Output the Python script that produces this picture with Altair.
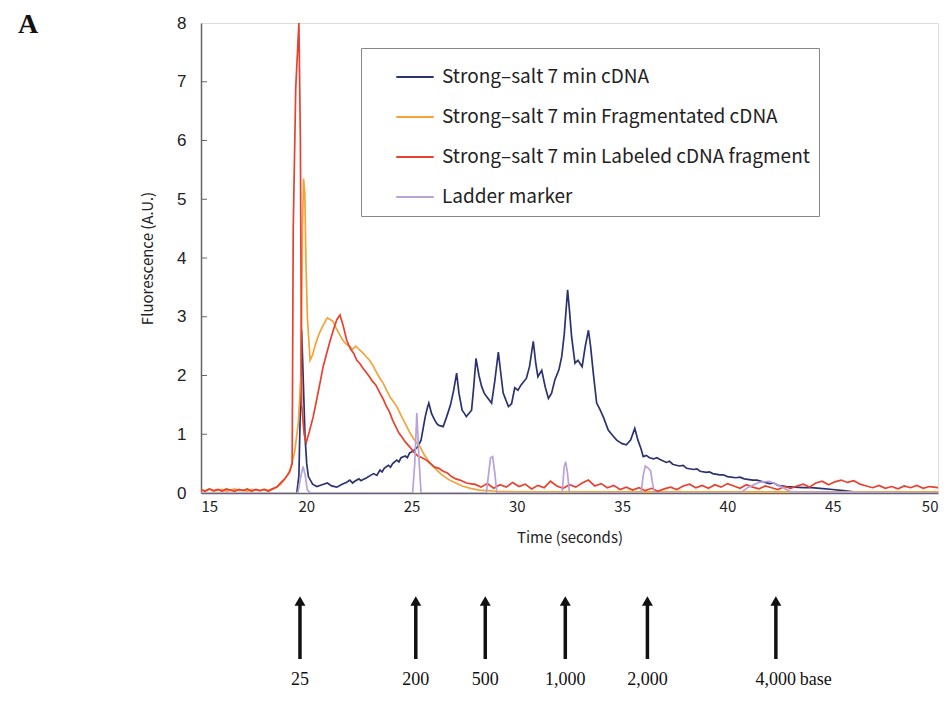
import altair as alt
import pandas as pd

# ---------------- data ----------------
SERIES = [
    "Strong\u2013salt 7 min cDNA",
    "Strong\u2013salt 7 min Fragmentated cDNA",
    "Strong\u2013salt 7 min Labeled cDNA fragment",
    "Ladder marker",
]
COLORS = ["#2B3270", "#F2A33A", "#E8412F", "#B9A2DA"]

cdna_t = [19.55, 19.65, 19.72, 19.78, 19.85, 19.94, 20.02, 20.1, 20.3, 20.5, 20.75, 21.0, 21.2, 21.45,
          21.7, 21.9, 22.07, 22.2, 22.3, 22.5, 22.6, 22.7, 22.87, 23.05, 23.2, 23.35, 23.5, 23.6, 23.7,
          23.9, 24.0, 24.1, 24.3, 24.4, 24.5, 24.7, 24.8, 24.9, 25.1, 25.3, 25.45, 25.55, 25.65, 25.75,
          25.82, 25.95, 26.1, 26.2, 26.3, 26.5, 26.67, 26.85, 27.0, 27.14, 27.25, 27.4, 27.5, 27.6,
          27.85, 27.95, 28.06, 28.2, 28.33, 28.45, 28.57, 28.8, 28.95, 29.12, 29.25, 29.35, 29.6,
          29.75, 29.9, 30.05, 30.2, 30.45, 30.6, 30.78, 30.9, 31.0, 31.18, 31.35, 31.5, 31.65, 31.8,
          32.0, 32.13, 32.25, 32.41, 32.5, 32.6, 32.76, 32.9, 33.1, 33.25, 33.4, 33.5, 33.63, 33.79,
          33.95, 34.1, 34.34, 34.55, 34.74, 35.0, 35.2, 35.4, 35.6, 35.75, 35.9, 36.0, 36.15, 36.3,
          36.5, 36.65, 36.8, 37.1, 37.25, 37.4, 37.7, 37.9, 38.06, 38.4, 38.55, 38.7, 39.0, 39.15,
          39.3, 39.64, 39.8, 40.0, 40.4, 40.6, 40.8, 41.2, 41.4, 41.6, 42.0, 42.2, 42.4, 42.8, 43.2,
          43.6, 44.0, 44.4, 45.0, 45.5, 46.0, 46.5, 47.0, 47.6, 48.2, 48.8, 49.4, 50.0]
cdna_v = [0.0, 0.3, 1.5, 2.77, 2.0, 0.96, 0.5, 0.28, 0.15, 0.11, 0.14, 0.17, 0.12, 0.1,
          0.15, 0.18, 0.22, 0.17, 0.2, 0.24, 0.21, 0.23, 0.26, 0.3, 0.33, 0.3, 0.39, 0.36, 0.42,
          0.47, 0.44, 0.5, 0.56, 0.53, 0.6, 0.63, 0.6, 0.68, 0.72, 0.79, 0.9, 1.1, 1.3, 1.45,
          1.53, 1.35, 1.24, 1.18, 1.15, 1.13, 1.3, 1.5, 1.75, 2.04, 1.7, 1.41, 1.36, 1.3,
          1.41, 1.8, 2.29, 2.0, 1.81, 1.7, 1.64, 1.53, 1.9, 2.4, 2.0, 1.7, 1.47,
          1.52, 1.79, 1.75, 1.84, 1.95, 2.15, 2.58, 2.2, 1.98, 2.09, 1.8, 1.61, 1.7, 1.92,
          2.1, 2.32, 2.7, 3.46, 3.1, 2.66, 2.21, 2.26, 2.15, 2.5, 2.77, 2.5, 2.04, 1.53,
          1.42, 1.3, 1.07, 0.98, 0.9, 0.84, 0.82, 0.9, 1.1, 0.9, 0.75, 0.62, 0.64, 0.6,
          0.58, 0.6, 0.57, 0.52, 0.54, 0.49, 0.46, 0.47, 0.42, 0.4, 0.41, 0.37, 0.35, 0.36,
          0.33, 0.31, 0.31, 0.28, 0.26, 0.27, 0.24, 0.22, 0.22, 0.2, 0.16, 0.17, 0.13, 0.11, 0.1,
          0.09, 0.09, 0.08, 0.06, 0.04, 0.02, 0.02, 0.01, 0.0, 0.01, 0.0, 0.0, 0.0]

frag_t = [15.0, 15.2, 15.4, 15.6, 15.8, 16.0, 16.2, 16.4, 16.6, 16.8, 17.0, 17.2, 17.4, 17.6, 17.8,
          18.0, 18.2, 18.4, 18.6, 18.8, 19.0, 19.23, 19.45, 19.62, 19.75, 19.82, 19.87, 19.93, 19.98,
          20.05, 20.18, 20.3, 20.45, 20.6, 20.75, 20.9, 21.0, 21.15, 21.27, 21.4, 21.55, 21.7, 21.85,
          22.07, 22.2, 22.35, 22.55, 22.7, 22.85, 23.0, 23.15, 23.3, 23.5, 23.65, 23.8, 24.0, 24.15,
          24.3, 24.5, 24.7, 24.9, 25.1, 25.25, 25.4, 25.6, 25.8, 26.0, 26.2, 26.4, 26.6, 26.8, 27.1,
          27.4, 27.8, 28.2, 28.6, 29.0, 30.0, 32.0, 35.0, 40.0, 45.0, 50.0]
frag_v = [0.05, 0.04, 0.07, 0.03, 0.05, 0.06, 0.03, 0.05, 0.07, 0.04, 0.05, 0.03, 0.06, 0.05, 0.04,
          0.06, 0.05, 0.07, 0.1, 0.15, 0.25, 0.39, 0.7, 1.19, 2.0, 4.5, 5.35, 5.1, 4.0,
          3.0, 2.26, 2.35, 2.55, 2.7, 2.82, 2.92, 2.98, 2.95, 2.92, 2.82, 2.72, 2.62, 2.55,
          2.49, 2.45, 2.5, 2.43, 2.38, 2.32, 2.26, 2.18, 2.08, 1.95, 1.87, 1.76, 1.62, 1.55,
          1.47, 1.32, 1.18, 1.04, 0.92, 0.85, 0.79, 0.65, 0.55, 0.46, 0.39, 0.32, 0.27, 0.22, 0.17,
          0.12, 0.08, 0.05, 0.04, 0.03, 0.02, 0.02, 0.02, 0.02, 0.02, 0.02]

lab_t = [15.0, 15.2, 15.4, 15.6, 15.8, 16.0, 16.2, 16.4, 16.6, 16.8, 17.0, 17.2, 17.4, 17.6, 17.8,
         18.0, 18.2, 18.4, 18.6, 18.8, 19.0, 19.2, 19.33, 19.38, 19.5, 19.65, 19.72, 19.78, 19.9,
         20.0, 20.15, 20.33, 20.5, 20.65, 20.8, 20.97, 21.1, 21.28, 21.45, 21.6, 21.75, 21.92, 22.1,
         22.25, 22.4, 22.55, 22.7, 22.85, 23.0, 23.15, 23.3, 23.5, 23.65, 23.8, 23.95, 24.1, 24.25,
         24.4, 24.55, 24.7, 24.9, 25.1, 25.3, 25.5, 25.7, 25.9, 26.1, 26.3, 26.5, 26.7, 26.9, 27.1,
         27.3, 27.6, 27.9, 28.0, 28.3, 28.6, 28.9, 29.2, 29.5, 29.8, 30.1, 30.4, 30.7, 31.0, 31.3,
         31.6, 31.9, 32.2, 32.5, 32.8, 33.1, 33.4, 33.7, 34.0, 34.3, 34.6, 34.9, 35.2, 35.5, 35.8,
         36.1, 36.4, 36.7, 37.0, 37.3, 37.6, 37.9, 38.2, 38.5, 38.8, 39.1, 39.4, 39.7, 40.0, 40.3,
         40.6, 40.9, 41.2, 41.5, 41.8, 42.1, 42.4, 42.7, 43.0, 43.3, 43.6, 43.9, 44.2, 44.5, 44.8,
         45.1, 45.4, 45.7, 46.0, 46.3, 46.6, 46.9, 47.2, 47.5, 47.8, 48.1, 48.4, 48.7, 49.0, 49.3,
         49.6, 50.0]
lab_v = [0.06, 0.03, 0.07, 0.04, 0.06, 0.03, 0.07, 0.05, 0.03, 0.06, 0.04, 0.07, 0.03, 0.06, 0.04,
         0.06, 0.03, 0.07, 0.1, 0.18, 0.25, 0.35, 0.5, 4.5, 6.9, 8.0, 6.0, 1.5, 1.0,
         0.86, 1.05, 1.3, 1.6, 1.87, 2.15, 2.38, 2.55, 2.77, 2.95, 3.03, 2.85, 2.6, 2.45,
         2.38, 2.26, 2.2, 2.12, 2.05, 1.98, 1.9, 1.84, 1.7, 1.6, 1.48, 1.38, 1.24, 1.13,
         1.02, 0.95, 0.87, 0.79, 0.7, 0.63, 0.6, 0.56, 0.5, 0.44, 0.42, 0.37, 0.34, 0.28, 0.24,
         0.22, 0.17, 0.15, 0.15, 0.1, 0.16, 0.08, 0.14, 0.1, 0.18, 0.11, 0.15, 0.07, 0.13, 0.09,
         0.2, 0.12, 0.08, 0.14, 0.1, 0.17, 0.22, 0.12, 0.16, 0.09, 0.13, 0.06, 0.1, 0.05, 0.09,
         0.04, 0.08, 0.03, 0.07, 0.1, 0.06, 0.12, 0.15, 0.09, 0.13, 0.08, 0.14, 0.1, 0.16, 0.12,
         0.08, 0.14, 0.1, 0.07, 0.12, 0.09, 0.06, 0.11, 0.08, 0.12, 0.15, 0.1, 0.17, 0.2, 0.14,
         0.19, 0.22, 0.18, 0.21, 0.15, 0.12, 0.09, 0.13, 0.08, 0.11, 0.07, 0.12, 0.09, 0.13, 0.08,
         0.11, 0.09]

ladder_t = [15.0, 19.6, 19.75, 19.85, 19.95, 20.05, 20.2, 25.05, 25.15, 25.25, 25.35, 25.45,
            28.55, 28.65, 28.75, 28.85, 28.95, 29.05, 32.15, 32.25, 32.32, 32.4, 32.5,
            35.9, 36.0, 36.1, 36.25, 36.35, 36.45, 36.55, 40.6, 41.0, 41.5, 42.0, 42.5, 43.0, 50.0]
ladder_v = [0.0, 0.0, 0.3, 0.45, 0.3, 0.05, 0.0, 0.0, 0.5, 1.36, 0.6, 0.0,
            0.0, 0.3, 0.6, 0.62, 0.35, 0.0, 0.0, 0.45, 0.53, 0.35, 0.0,
            0.0, 0.3, 0.46, 0.42, 0.38, 0.15, 0.0, 0.0, 0.1, 0.18, 0.2, 0.12, 0.02, 0.0]

arrow_t = [19.7, 25.2, 28.5, 32.3, 36.2, 42.3]
arrow_labels = ["25", "200", "500", "1,000", "2,000", "4,000"]

x_ticks = [15, 20, 25, 30, 35, 40, 45, 50]
y_ticks = [0, 1, 2, 3, 4, 5, 6, 7, 8]

# ---------------- build tables ----------------
rows = []
for name, ts, vs in zip(SERIES, [cdna_t, frag_t, lab_t, ladder_t], [cdna_v, frag_v, lab_v, ladder_v]):
    for i, (t, v) in enumerate(zip(ts, vs)):
        rows.append({"series": name, "t": t, "v": v, "i": i})
df = pd.DataFrame(rows)

W, H = 737, 470
FONT = "Noto Sans CJK JP"

x_scale = alt.Scale(domain=[15, 50], nice=False, zero=False)
y_scale = alt.Scale(domain=[0, 8], nice=False)

lines = alt.Chart(df).mark_line(strokeWidth=1.7, clip=True).encode(
    x=alt.X("t:Q", scale=x_scale,
            axis=alt.Axis(values=x_ticks, format="d", tickSize=0, grid=False, labelFontSize=15,
                          labelFont=FONT, labelColor="#222", labelPadding=6, domainColor="#666",
                          domainWidth=1.5, title="Time (seconds)", titleFont=FONT, titleFontSize=15,
                          titleFontWeight="normal", titleColor="#222", titleY=44,
                          titleBaseline="middle")),
    y=alt.Y("v:Q", scale=y_scale,
            axis=alt.Axis(values=y_ticks, format="d", tickSize=0, grid=False, labelFontSize=17,
                          labelFont="Liberation Sans", labelColor="#222", labelPadding=15,
                          domainColor="#666", domainWidth=1.5,
                          title="Fluorescence (A.U.)", titleFont=FONT, titleFontSize=15,
                          titleFontWeight="normal", titleColor="#222", titleX=-54, titleY=H / 2,
                          titleAlign="center", titleBaseline="middle")),
    color=alt.Color("series:N", scale=alt.Scale(domain=SERIES, range=COLORS),
                    legend=alt.Legend(orient="none", legendX=160, legendY=25, title=None,
                                      strokeColor="#888", fillColor="white", padding=9,
                                      symbolOffset=25, rowPadding=10, labelFontSize=19,
                                      labelFont=FONT, labelColor="#222", symbolType="stroke",
                                      symbolSize=1400, symbolStrokeWidth=2, labelLimit=700,
                                      labelOffset=7)),
    order="i:Q",
)

ytick_df = pd.DataFrame({"v": y_ticks[1:-1]})
yticks = alt.Chart(ytick_df).mark_rule(color="#666", strokeWidth=1).encode(
    y="v:Q", x=alt.value(0), x2=alt.value(6))

arrow_df = pd.DataFrame({"t": arrow_t, "label": arrow_labels})
shafts = alt.Chart(arrow_df).mark_rule(color="#111", strokeWidth=3.5).encode(
    x="t:Q", y=alt.value(580), y2=alt.value(636))
heads = alt.Chart(arrow_df).mark_point(shape="triangle-up", filled=True, size=120,
                                       color="#111", opacity=1).encode(
    x="t:Q", y=alt.value(578))
labels = alt.Chart(arrow_df).mark_text(font="Liberation Serif", fontSize=18, color="#111",
                                       baseline="middle").encode(
    x="t:Q", y=alt.value(657), text="label:N")
base_df = pd.DataFrame({"t": [arrow_t[-1]], "label": ["base"]})
base_lbl = alt.Chart(base_df).mark_text(font="Liberation Serif", fontSize=18, color="#111",
                                        baseline="middle", align="left", dx=24).encode(
    x="t:Q", y=alt.value(657), text="label:N")

panel_df = pd.DataFrame({"s": ["A"]})
panel = alt.Chart(panel_df).mark_text(font="Liberation Serif", fontSize=28, fontWeight="bold",
                                      color="#111", align="left", baseline="top").encode(
    x=alt.value(-183), y=alt.value(-12), text="s:N")

chart = alt.layer(lines, yticks, shafts, heads, labels, base_lbl, panel).properties(
    width=W, height=H,
    autosize=alt.AutoSizeParams(type="none"),
    padding={"left": 193, "top": 15, "right": 6, "bottom": 200},
).configure_view(stroke="#666", strokeWidth=1.5).configure(background="white")

chart.save("out.html", embed_options={"renderer": "svg", "actions": False})
